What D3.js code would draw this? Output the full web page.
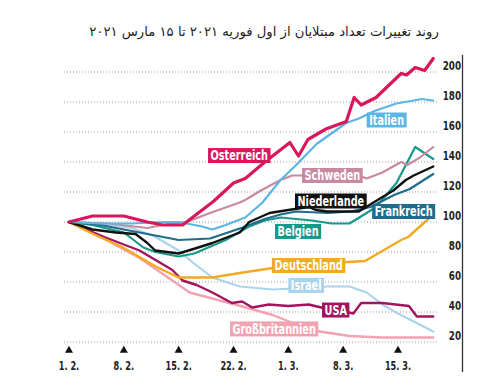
<!DOCTYPE html>
<html><head><meta charset="utf-8">
<script src="https://cdn.jsdelivr.net/npm/d3@7"></script>
<style>
html,body{margin:0;padding:0;background:#fff;}
svg{display:block;}
</style></head>
<body>
<svg id="chart" width="498" height="390"></svg>
<script>
const title = "روند تغییرات تعداد مبتلایان از اول فوریه ۲۰۲۱ تا ۱۵ مارس ۲۰۲۱";
const xTickDays = [0, 7, 14, 21, 28, 35, 42];
const xTickLabels = ["1. 2.", "8. 2.", "15. 2.", "22. 2.", "1. 3.", "8. 3.", "15. 3."];
const yTicks = [20, 40, 60, 80, 100, 120, 140, 160, 180, 200];

// [day since 1 Feb, index value]
const grossbritannien = [[0,100],[4.8,88],[9,76],[13.2,61],[15.4,53],[18.3,49],[22.6,43],[26,38],[29.4,31],[32,27],[35.8,24],[40,23],[46.5,23]];
const israel = [[0,100],[5,98],[8,96],[10.7,91],[14,81],[15.8,73],[18.3,63],[21.8,57],[26,55],[30,56],[33,57],[35.8,57],[38,53],[40,45],[42,39],[46.5,27]];
const usa = [[0,100],[4.5,90],[9,81],[13.2,68],[14.5,61],[16.3,58],[18.3,53],[20.8,46],[22.1,47],[23.4,43],[25.5,45],[28,44],[30.6,45],[33,42],[35.5,40],[36.3,39],[37.3,46],[40,46],[43.4,44],[44.4,37],[46.5,37]];
const deutschland = [[0,100],[2.7,93],[6.9,83],[11.2,70],[14,63],[18.3,63],[21.8,66],[25.6,69],[27,70],[30,72],[34.5,73],[37.8,74],[42.4,88],[43.3,90],[46.5,105]];
const belgien = [[0,100],[3,98],[7,93],[9.5,83],[11,80],[14,77],[16,79],[20,88],[23,97],[25,101],[27,103],[31,101],[33.5,99],[35.8,99],[38,106],[39.2,110],[41.8,126],[44.2,150],[46.5,142]];
const frankreich = [[0,100],[4,98],[9,93],[14,88],[18,89],[22,96],[25,102],[27,105],[29,107],[33,106],[36,107],[38.5,110],[41.5,118],[43.5,122],[46.5,132]];
const niederlande = [[0,100],[3,95],[6,93],[8.5,92],[10,86],[11,81],[14,79],[16.5,83],[18.3,86],[21.8,93],[23,100],[25.6,106],[28,108],[30.6,110],[31.5,108],[33,107],[37,107],[39.5,115],[41.4,121],[43,128],[44,131],[46.5,137]];
const schweden = [[0,100],[5,99],[10,96],[13,99],[15,100],[18,106],[21.8,113],[22.6,115],[24.5,121],[27,128],[28.5,131],[30.6,131],[33,132],[36,133],[38,129],[40,133],[42.4,140],[43.2,138],[44.8,143],[46.5,150]];
const italien = [[0,100],[4,99],[8,99],[12,100],[14,100],[17,97],[18.3,95],[20,98],[22.5,103],[24.7,113],[27,128],[29,138],[31.6,152],[35.4,166],[37,169],[39,174],[41.8,179],[44,181],[45,182],[46.5,181]];
const oesterreich = [[0,100],[3,104],[7,104],[10,100],[12,98],[14.5,98],[17,108],[18.5,114],[21,126],[22.5,129],[25,140],[28.2,153],[29.3,144],[30.5,155],[32.8,162],[35.4,167],[36.4,183],[37.3,178],[39.2,183],[42.4,199],[43.1,198],[44.2,203],[45.4,201],[46.5,209]];

const seriesNames = ["Großbritannien","Israel","USA","Deutschland","Belgien","Frankreich","Niederlande","Schweden","Italien","Österreich"];
const seriesData = [grossbritannien, israel, usa, deutschland, belgien, frankreich, niederlande, schweden, italien, oesterreich];
const seriesColors = ["#f3a2b2","#a9d4ec","#a3145f","#f2aa1e","#16998b","#1f6c8c","#111111","#c98aa1","#5cb6e2","#d9175c"];
const seriesWidths = [2.4,2.2,2.4,2.4,2.2,2.2,2.4,2.2,2.2,3.2];
// label anchor: [day of left edge, value at centre]
const labelPos = [[20.55,28.7],[28.0,57.7],[32.3,41.3],[25.9,71],[26.3,93.7],[38.7,107],[28.85,114],[29.75,131],[38.0,168],[17.75,144.3]];

const svg = d3.select("#chart");
const x = d3.scaleLinear().domain([0, 42]).range([69, 398]);
const y = d3.scaleLinear().domain([20, 200]).range([342, 72]);

svg.append("text").attr("x", 264).attr("y", 36).attr("text-anchor", "middle")
  .attr("direction", "rtl")
  .style("font-family", "'DejaVu Sans', sans-serif").style("font-size", "13.2px").attr("fill", "#222")
  .text(title);

// grid
svg.append("g").selectAll("line").data(yTicks).join("line")
  .attr("x1", 64).attr("x2", 437)
  .attr("y1", d => y(d)).attr("y2", d => y(d))
  .attr("stroke", "#9a9a9a").attr("stroke-width", 1).attr("stroke-dasharray", "1,2");

// right axis
svg.append("line").attr("x1", 462.5).attr("x2", 462.5).attr("y1", 55).attr("y2", 372)
  .attr("stroke", "#333").attr("stroke-width", 1.3);

const lab = "'DejaVu Sans Condensed', 'DejaVu Sans', sans-serif";
// condensed text helper
function ctext(parent, tx, ty, str, size, sx, anchor, fill) {
  return parent.append("text")
    .attr("transform", `translate(${tx},${ty}) scale(${sx},1)`)
    .attr("text-anchor", anchor)
    .style("font-family", lab).style("font-size", size + "px").style("font-weight", "bold")
    .attr("fill", fill).text(str);
}

const yg = svg.append("g");
yTicks.forEach(d => ctext(yg, 461, y(d) - 2.5, d, 12.5, 0.78, "end", "#222"));

// x ticks
const sym = d3.symbol().type(d3.symbolTriangle).size(28);
svg.append("g").selectAll("path").data(xTickDays).join("path")
  .attr("d", sym).attr("transform", d => `translate(${x(d)},350.5)`).attr("fill", "#111");
const xg = svg.append("g");
xTickDays.forEach((d, i) => ctext(xg, x(d), 370, xTickLabels[i], 13, 0.7, "middle", "#222"));

const line = d3.line().x(d => x(d[0])).y(d => y(d[1])).curve(d3.curveLinear);
svg.append("g").selectAll("path").data(seriesData).join("path")
  .attr("d", line).attr("fill", "none")
  .attr("stroke", (d, i) => seriesColors[i]).attr("stroke-width", (d, i) => seriesWidths[i])
  .attr("stroke-linejoin", "round").attr("stroke-linecap", "round");

// labels
seriesNames.forEach((name, i) => {
  const g = svg.append("g");
  const lx = x(labelPos[i][0]), ly = y(labelPos[i][1]);
  const sx = 0.8;
  const t = ctext(g, lx + 2.5, ly + 4.8, name, 13.5, sx, "start", "#fff");
  const w = t.node().getComputedTextLength() * sx;
  g.insert("rect", "text").attr("x", lx).attr("y", ly - 7.5)
    .attr("width", w + 5).attr("height", 15).attr("fill", seriesColors[i]);
});
</script>
</body></html>
